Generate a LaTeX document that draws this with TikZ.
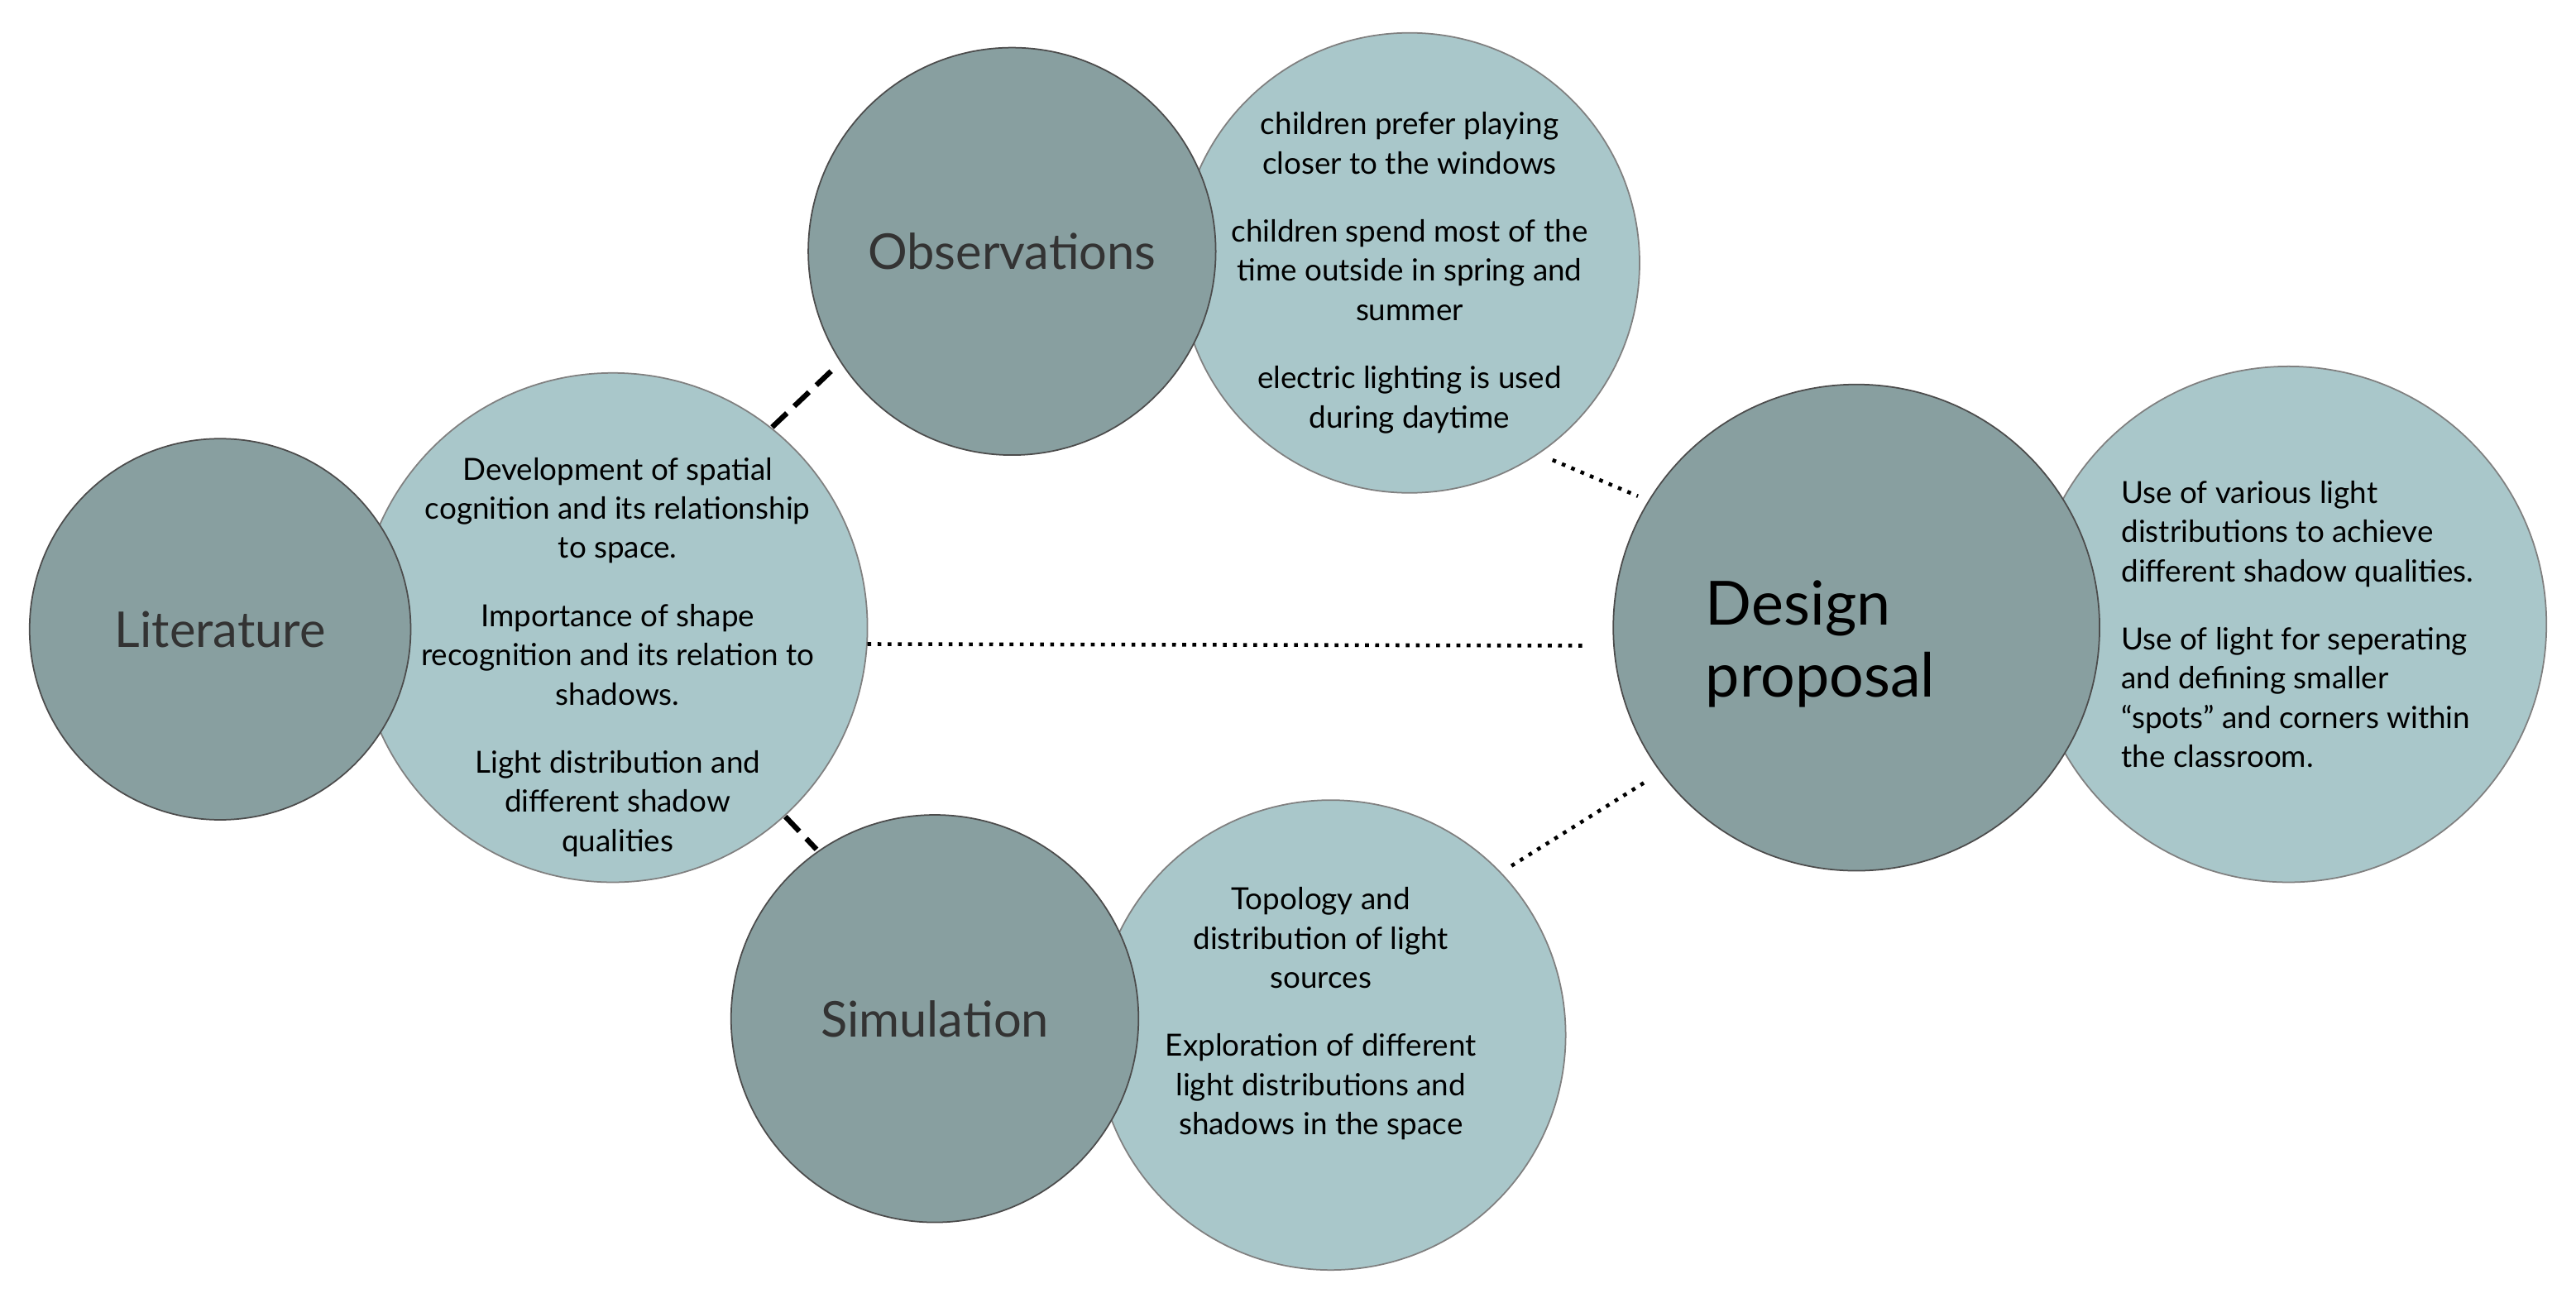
\documentclass[tikz,border=0pt]{standalone}
\usepackage{fontspec}
\setmainfont{Lato}
\definecolor{darkc}{HTML}{889FA0}
\definecolor{lightc}{HTML}{A9C7CA}
\def\U{0.0199cm}
\begin{document}
\begin{tikzpicture}[x=0.0199cm,y=-0.0199cm,
  dk/.style={circle,draw=black!70,line width=0.5pt,fill=darkc,inner sep=0pt},
  lt/.style={circle,draw=black!50,line width=0.5pt,fill=lightc,inner sep=0pt},
  body/.style={align=center,font=\fontsize{10.5}{13.5}\selectfont},
  ttl/.style={font=\fontsize{17}{20}\selectfont,text=black!80},
  dsh/.style={line width=1.8pt,dash pattern=on 7pt off 3.5pt},
  dot/.style={line width=1.3pt,dash pattern=on 1.3pt off 2.2pt}]
\useasboundingbox (0,0) rectangle (1568,790);
% light circles
\node[lt,minimum size=310*\U] (litL) at (373,382) {};
\node[lt,minimum size=280*\U] (obsL) at (858,160) {};
\node[lt,minimum size=314*\U] (desL) at (1393,380) {};
\node[lt,minimum size=286*\U] (simL) at (810,630) {};
% dark circles
\node[dk,minimum size=232*\U] (litD) at (134,383) {};
\node[dk,minimum size=248*\U] (obsD) at (616,153) {};
\node[dk,minimum size=296*\U] (desD) at (1130,382) {};
\node[dk,minimum size=248*\U] (simD) at (569,620) {};
% titles
\node[ttl] at (litD) {Literature};
\node[ttl] at (obsD) {Observations};
\node[ttl] at (simD) {Simulation};
\node[font=\fontsize{21}{25}\selectfont,align=left,anchor=west] at (1032,392) {Design\\proposal};
% texts
\node[body] at (858,166) {children prefer playing\\closer to the windows\\[10pt]children spend most of the\\time outside in spring and\\summer\\[10pt]electric lighting is used\\during daytime};
\node[body] at (376,400) {Development of spatial\\cognition and its relationship\\to space.\\[10pt]Importance of shape\\recognition and its relation to\\shadows.\\[10pt]Light distribution and\\different shadow\\qualities};
\node[body,align=left,anchor=west] at (1285,380) {Use of various light\\distributions to achieve\\different shadow qualities.\\[10pt]Use of light for seperating\\and defining smaller\\“spots” and corners within\\the classroom.};
\node[body] at (804,617) {Topology and\\distribution of light\\sources\\[10pt]Exploration of different\\light distributions and\\shadows in the space};
% connectors
\coordinate (a1) at (470,260); \coordinate (a2) at (510,222);
\draw[dsh] (a1) -- (a2);
\coordinate (b1) at (478,497); \coordinate (b2) at (497,517);
\draw[dsh] (b1) -- (b2);
\coordinate (c1) at (945,280); \coordinate (c2) at (997,302);
\draw[dot] (c1) -- (c2);
\coordinate (d1) at (528,392); \coordinate (d2) at (963,393);
\draw[dot] (d1) -- (d2);
\coordinate (e1) at (920,527); \coordinate (e2) at (1003,475);
\draw[dot] (e1) -- (e2);
\end{tikzpicture}
\end{document}
